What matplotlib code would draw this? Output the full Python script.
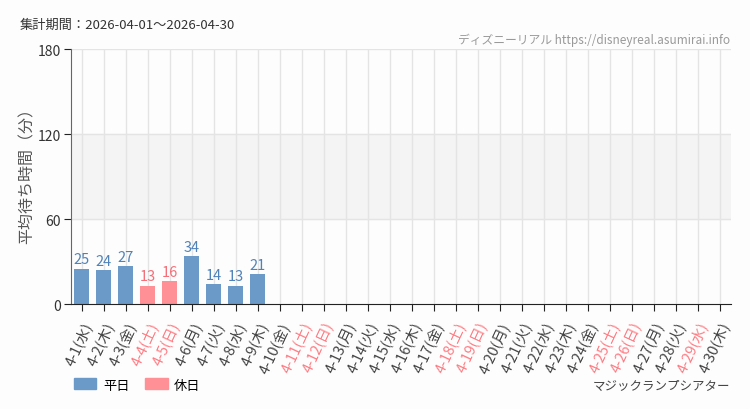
import matplotlib
matplotlib.use("Agg")
import matplotlib.pyplot as plt
from matplotlib.patches import Patch

plt.rcParams['font.family'] = ['Noto Sans CJK JP', 'DejaVu Sans']

dates = [f"4-{d}" for d in range(1, 31)]
weekdays = ["水", "木", "金", "土", "日", "月", "火"]
days = [weekdays[(d - 1) % 7] for d in range(1, 31)]
holidays = [4, 5, 11, 12, 18, 19, 25, 26, 29]
values = [25, 24, 27, 13, 16, 34, 14, 13, 21]
yticks = [0, 60, 120, 180]

blue = "#6c9ac8"
pink = "#ff9196"
blue_txt = "#4f82ba"
pink_txt = "#f56f78"
red_tick = "#ff7c84"

fig = plt.figure(figsize=(7.5, 4.1), dpi=100, facecolor="#fcfdfc")
ax = fig.add_axes([0.0943, 0.256, 0.88, 0.622])
ax.set_facecolor("#fcfdfc")

n = len(dates)
ax.set_xlim(-0.5, n - 0.5)
ax.set_ylim(0, 180)
ax.axhspan(60, 120, color="#f4f4f4", zorder=0)
for i in range(n):
    ax.axvline(i, color="#e4e4e4", lw=1, zorder=0.5)
for y in yticks[1:]:
    ax.axhline(y, color="#e4e4e4", lw=1, zorder=0.5)

for i, v in enumerate(values):
    day = i + 1
    hol = day in holidays
    ax.bar(i, v, width=0.7, color=pink if hol else blue, zorder=2)
    ax.text(i, v + 1.5, str(v), ha="center", va="bottom", fontsize=10.5,
            color=pink_txt if hol else blue_txt, zorder=3)

ax.set_xticks(range(n))
ax.set_xticklabels([f"{d}({w})" for d, w in zip(dates, days)], rotation=65,
                   ha="right", rotation_mode="anchor", fontsize=10.5, color="#444444")
for i, lab in enumerate(ax.get_xticklabels()):
    if (i + 1) in holidays:
        lab.set_color(red_tick)
ax.set_yticks(yticks)
ax.set_yticklabels([str(y) for y in yticks], fontsize=10, color="#333333")
ax.tick_params(axis="x", length=5, color="#222222", pad=6)
ax.tick_params(axis="y", length=5, color="#222222", pad=2)

for s in ["top", "right"]:
    ax.spines[s].set_visible(False)
ax.spines["left"].set_color("#666666")
ax.spines["bottom"].set_color("#222222")
ax.set_ylabel("平均待ち時間（分）", fontsize=11.5, color="#555555")
ax.yaxis.set_label_coords(-0.053, 0.52)

fig.text(20 / 750, 1 - 25 / 410, "集計期間：2026-04-01～2026-04-30", fontsize=9.5,
         color="#333333", va="center", ha="left")
fig.text(730 / 750, 1 - 40 / 410, "ディズニーリアル https://disneyreal.asumirai.info",
         fontsize=8.5, color="#999999", va="center", ha="right")
fig.text(730 / 750, 1 - 386 / 410, "マジックランプシアター", fontsize=9,
         color="#444444", va="center", ha="right")

handles = [Patch(color=blue, label="平日"), Patch(color=pink, label="休日")]
fig.legend(handles=handles, loc="center left", bbox_to_anchor=(62 / 750, 1 - 386 / 410),
           ncol=2, frameon=False, fontsize=9.5, handlelength=1.7, handleheight=0.9,
           columnspacing=1.2, handletextpad=0.5)

fig.savefig("out.png", dpi=100, facecolor=fig.get_facecolor())
